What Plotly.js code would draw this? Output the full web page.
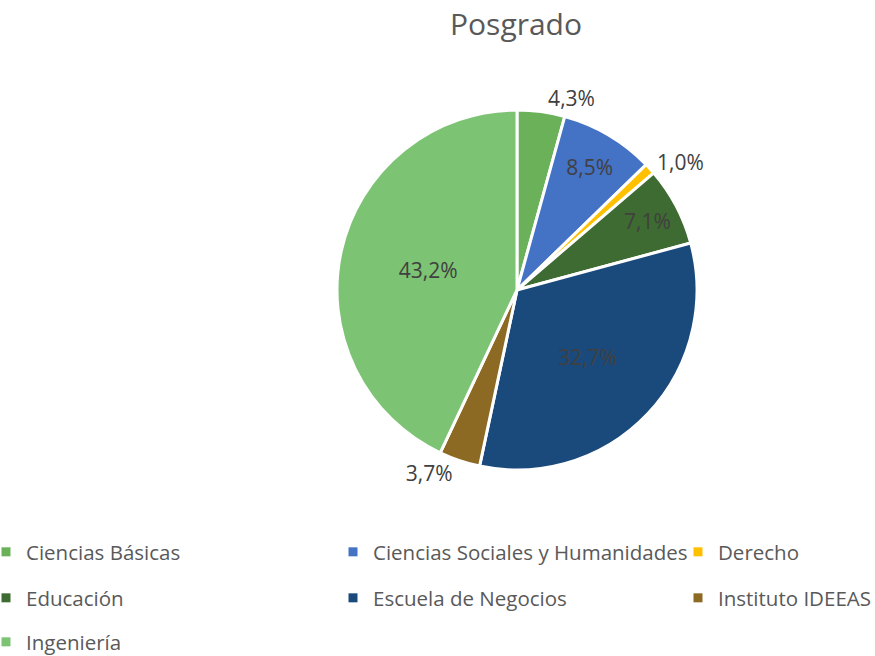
<!DOCTYPE html>
<html>
<head>
<meta charset="utf-8">
<script src="https://cdn.plot.ly/plotly-3.0.1.min.js"></script>
<style>html,body{margin:0;padding:0;background:#fff;}#chart{width:875px;height:656px;}</style>
</head>
<body>
<div id="chart"></div>
<script>
const categories = ['Ciencias Básicas', 'Ciencias Sociales y Humanidades', 'Derecho', 'Educación', 'Escuela de Negocios', 'Instituto IDEEAS', 'Ingeniería'];
const values = [4.3, 8.5, 1.0, 7.1, 32.7, 3.7, 43.2];
const labelsText = ['4,3%', '8,5%', '1,0%', '7,1%', '32,7%', '3,7%', '43,2%'];
const colors = ['#6BB15A', '#4472C4', '#FFC000', '#3E6B31', '#1A4A7B', '#8C6A23', '#7DC374'];
const textPositions = ['outside', 'inside', 'outside', 'inside', 'inside', 'outside', 'inside'];

const W = 875, H = 656;
const cx = 517, cy = 290, R = 180;

const traces = [{
  type: 'pie',
  labels: categories,
  values: values,
  text: labelsText,
  textinfo: 'text',
  textposition: textPositions,
  insidetextorientation: 'horizontal',
  sort: false,
  direction: 'clockwise',
  rotation: 0,
  showlegend: false,
  automargin: false,
  marker: { colors: colors, line: { color: '#ffffff', width: 3 } },
  textfont: { family: 'Open Sans', size: 21, color: '#404040' },
  insidetextfont: { family: 'Open Sans', size: 21, color: '#404040' },
  outsidetextfont: { family: 'Open Sans', size: 21, color: '#404040' },
  domain: { x: [(cx - R) / W, (cx + R) / W], y: [(H - cy - R) / H, (H - cy + R) / H] },
  hoverinfo: 'label+text'
}];

// legend placement: 3 columns x 3 rows
const colX = [26, 373, 718];
const rowY = [552, 598, 642];
const layoutLegends = {};
categories.forEach((c, i) => {
  const id = i === 0 ? 'legend' : 'legend' + (i + 1);
  traces.push({
    type: 'scatter', x: [null], y: [null], mode: 'markers',
    name: c, legend: id, showlegend: true, hoverinfo: 'skip',
    marker: { symbol: 'square', size: 9, color: colors[i] }
  });
  const col = i % 3, row = Math.floor(i / 3);
  layoutLegends[id] = {
    x: (colX[col] - 40) / W, xanchor: 'left',
    y: 1 - rowY[row] / H, yanchor: 'middle',
    orientation: 'h', bgcolor: 'rgba(0,0,0,0)', borderwidth: 0,
    font: { family: 'Open Sans', size: 20.5, color: '#595959' }
  };
});

const layout = Object.assign({
  width: W, height: H,
  margin: { l: 0, r: 0, t: 0, b: 0, autoexpand: false },
  paper_bgcolor: '#ffffff', plot_bgcolor: '#ffffff',
  title: { text: 'Posgrado', x: 516 / W, xanchor: 'center', xref: 'paper', y: 1 - 24 / H, yanchor: 'middle', yref: 'container',
    font: { family: 'Open Sans', size: 30, color: '#595959' } },
  xaxis: { visible: false }, yaxis: { visible: false },
  uniformtext: { mode: 'show', minsize: 21 },
  showlegend: true
}, layoutLegends);

Plotly.newPlot('chart', traces, layout, { displayModeBar: false, staticPlot: true });
</script>
</body>
</html>
